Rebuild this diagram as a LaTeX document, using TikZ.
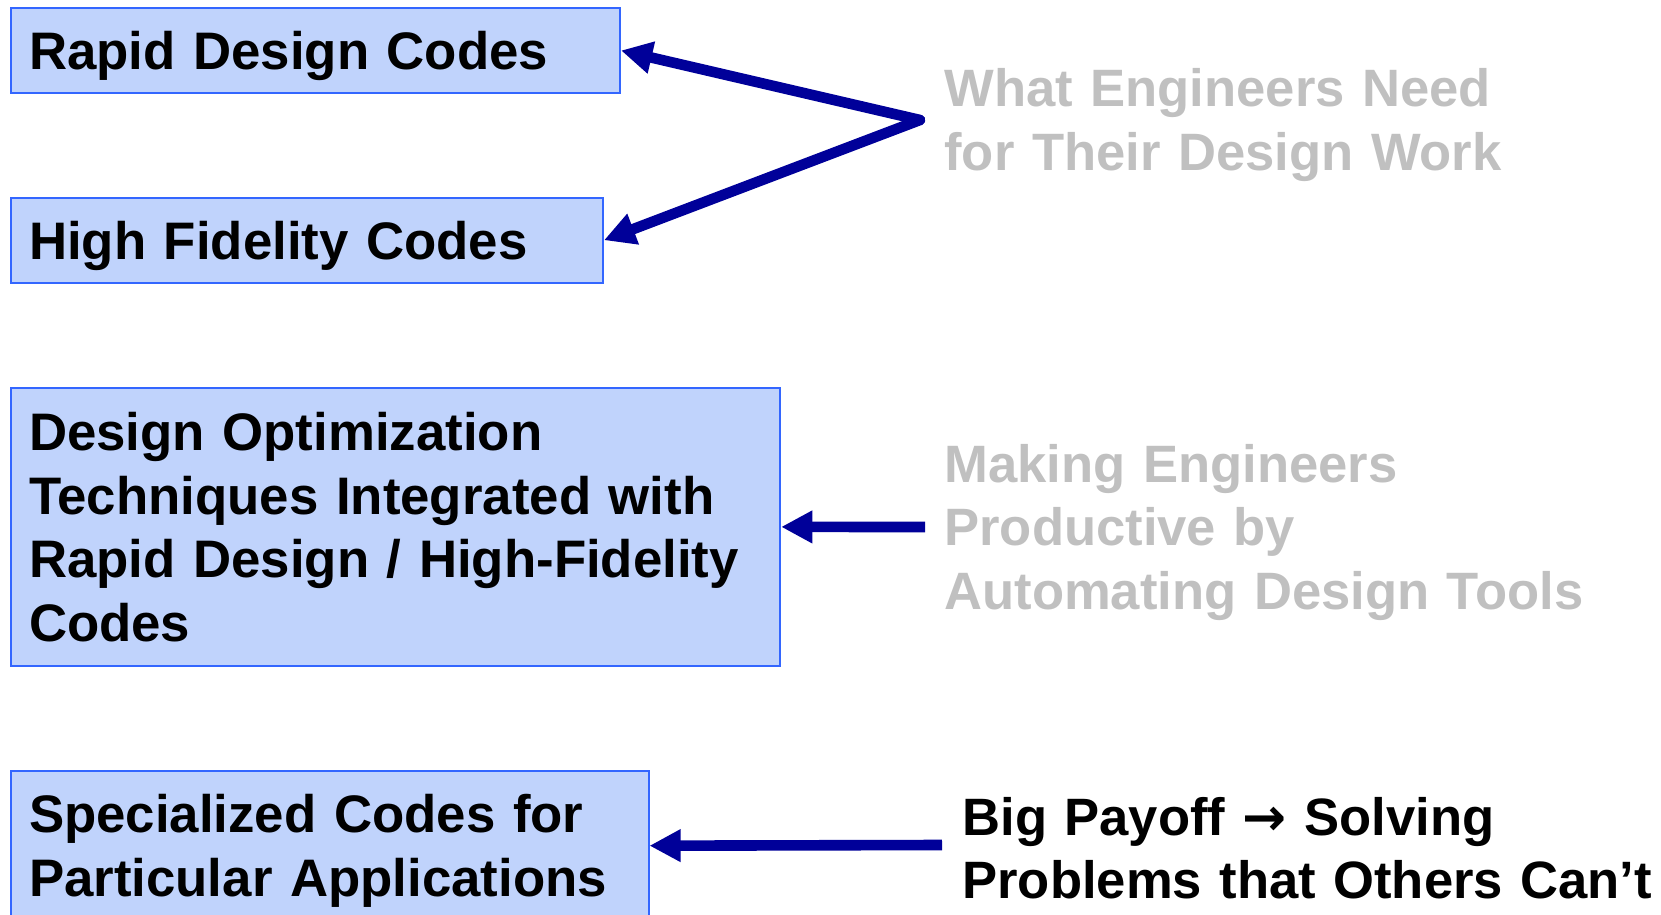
\documentclass[tikz,border=0pt]{standalone}
\usepackage{fontspec}
\setmainfont{Liberation Sans}
\newfontfamily\arrowfont{DejaVu Sans}
\usepackage{xcolor}
\usetikzlibrary{positioning, arrows.meta}
\definecolor{boxfill}{HTML}{C0D3FC}
\definecolor{boxline}{HTML}{3366FF}
\definecolor{arrownavy}{HTML}{000099}
\definecolor{notegray}{HTML}{C0C0C0}

\begin{document}
\begin{tikzpicture}[x=0.5pt, y=-0.5pt,
    codebox/.style={draw=boxline, fill=boxfill, line width=1pt, anchor=north west,
      inner xsep=9pt, inner ysep=0pt, align=left, text height=19pt, text depth=#1,
      font=\fontsize{26.4}{31.8}\selectfont\bfseries},
    codebox/.default=0pt,
    note/.style={anchor=base west, inner sep=0pt, text width=360pt, align=left,
      font=\fontsize{26.3}{31.8}\selectfont\bfseries},
    link/.style={draw=arrownavy, line width=5.3pt, line join=round,
      -{Triangle[length=15.6pt, width=15.4pt]}}]
    \useasboundingbox (0,0) rectangle (1661,915);
    \clip (0,0) rectangle (1661,915);

    % code boxes on the left
    \node[codebox, text width=286.5pt, minimum height=42.2pt] (rapid) at (10,7.3) {Rapid Design Codes};
    \node[codebox, text width=278pt, minimum height=42.5pt] (hifi) at (10,196.7) {High Fidelity Codes};
    \node[codebox=95.4pt, text width=366.6pt, minimum height=139.3pt] (optim) at (10,386.6) {%
      Design Optimization\\
      Techniques Integrated with\\
      Rapid Design / High-Fidelity\\
      Codes};
    \node[codebox=31.8pt, text width=300.75pt, minimum height=74.7pt] (special) at (10,770) {%
      Specialized Codes for\\
      Particular Applications};

    % notes on the right
    \node[note, text=notegray] (need) at (944,106.7) {What Engineers Need\\for Their Design Work};
    \node[note, text=notegray] (productive) at (944,482.3) {Making Engineers\\Productive by\\Automating Design Tools};
    \node[note] (payoff) at (962,835) {Big Payoff {\arrowfont →} Solving\\Problems that Others Can’t};

    \coordinate (fork) at (920,120);
    \coordinate (toolsend) at (925,527);
    \coordinate (payoffend) at (942,845);

    \draw[link, line cap=round] (fork) -- (rapid.east);
    \draw[link, line cap=round] (fork) -- (hifi.east);
    \draw[link] (toolsend) -- (optim.east);
    \draw[link] (payoffend) -- (special.east);
  \end{tikzpicture}
\end{document}
